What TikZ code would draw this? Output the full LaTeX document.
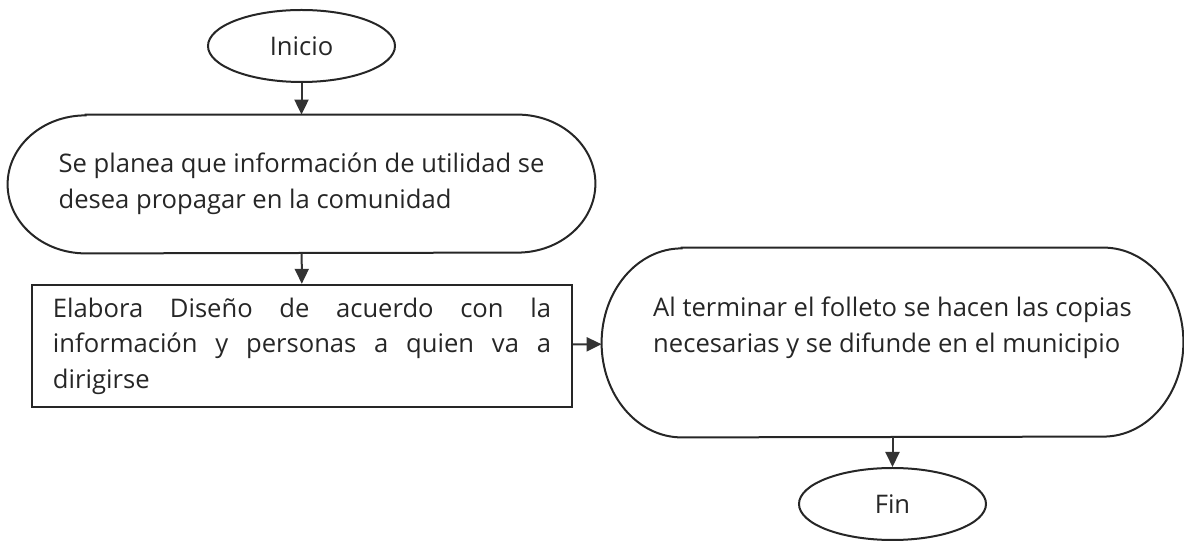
\documentclass[tikz,border=0pt]{standalone}
\usepackage{fontspec}
\setmainfont{Open Sans}
\usetikzlibrary{shapes.geometric,arrows.meta}

\newcommand{\stadium}[3]{\draw[outline] ([xshift=#2]#1.north west) -- ([xshift=-#2]#1.north east)
  arc[start angle=90,end angle=-90,x radius=#2,y radius=#3] -- ([xshift=#2]#1.south west)
  arc[start angle=270,end angle=90,x radius=#2,y radius=#3] -- cycle;}

\begin{document}
\begin{tikzpicture}[x=0.5pt,y=-0.5pt,
	every node/.style={font=\fontsize{12.8}{17.8}\selectfont,text=black!85,inner sep=0pt},
	outline/.style={draw=black!85,line width=1pt},
	term/.style={ellipse,outline,minimum width=93.5pt,minimum height=36pt},
	pill/.style={rectangle,align=left},
	box/.style={rectangle,outline,line width=1.2pt,text width=249pt,align=justify,minimum width=270pt,minimum height=61pt},
	flow/.style={draw=black!80,line width=1pt,-{Triangle[length=7.5pt,width=7pt]}}]
	\useasboundingbox (0,0) rectangle (1184,544);
	\node[term] (inicio) at (301.5,46) {Inicio};
	\node[pill,minimum width=293.5pt,minimum height=69pt] (plan) at (301.5,184)
		{Se planea que información de utilidad se\\desea propagar en la comunidad};
	\stadium{plan}{39pt}{34.5pt}
	\node[box] (diseno) at (302,346)
		{Elabora Diseño de acuerdo con la\linebreak información y personas a quien va a\linebreak dirigirse};
	\node[pill,minimum width=290.5pt,minimum height=94.5pt] (folleto) at (892.5,342.5)
		{Al terminar el folleto se hacen las copias\\necesarias y se difunde en el municipio\\\mbox{}};
	\stadium{folleto}{40pt}{47.25pt}
	\node[term] (fin) at (892.5,504) {Fin};
	\draw[flow] (inicio) -- (plan);
	\draw[flow] (plan) -- (diseno);
	\draw[flow] (diseno) -- (folleto);
	\draw[flow] (folleto) -- (fin);
\end{tikzpicture}
\end{document}
